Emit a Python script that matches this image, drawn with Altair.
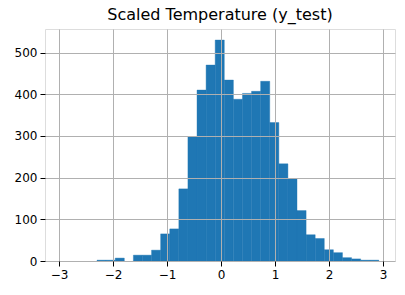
import altair as alt
import pandas as pd

# Histogram of scaled temperature (35 equal-width bins)
bin_start = -2.97
bin_width = 0.1683
counts = [0, 0, 0, 0, 2, 2, 7, 0, 14, 14, 26, 65, 77, 173, 298, 410, 470, 530,
          434, 388, 402, 407, 431, 332, 233, 197, 121, 63, 54, 27, 20, 8, 5, 2, 2]
x_ticks = [-3, -2, -1, 0, 1, 2, 3]
y_ticks = [0, 100, 200, 300, 400, 500]

df = pd.DataFrame({
    "x0": [bin_start + i * bin_width for i in range(len(counts))],
    "x1": [bin_start + (i + 1) * bin_width for i in range(len(counts))],
    "count": counts,
})

axis_common = dict(
    grid=True, gridColor="#b0b0b0", gridWidth=1,
    domain=False, tickColor="black", tickSize=5, tickWidth=1,
    labelColor="black", labelFont="DejaVu Sans", labelFontSize=12,
    labelPadding=3, title=None, zindex=1,
)

chart = alt.Chart(df).transform_filter(
    alt.datum["count"] > 0
).mark_rect(color="#1f77b4", stroke="#1f77b4", strokeWidth=0.4).encode(
    x=alt.X("x0:Q", scale=alt.Scale(domain=[-3.26, 3.22], nice=False, zero=False),
            axis=alt.Axis(values=x_ticks, format="d", **axis_common)),
    x2="x1:Q",
    y=alt.Y("count:Q", scale=alt.Scale(domain=[0, 556.5], nice=False),
            axis=alt.Axis(values=y_ticks, format="d", **axis_common)),
    y2=alt.datum(0),
).properties(
    width=350, height=232,
    title=alt.TitleParams("Scaled Temperature (y_test)", font="DejaVu Sans",
                          fontSize=16, fontWeight="normal", color="black",
                          anchor="middle", offset=6),
    autosize=alt.AutoSizeParams(type="none"),
    padding={"left": 45, "top": 29, "right": 10, "bottom": 34},
).configure_view(stroke="black", strokeWidth=1).configure(background="white")

chart.save("out.html", embed_options={"renderer": "svg", "actions": False})
